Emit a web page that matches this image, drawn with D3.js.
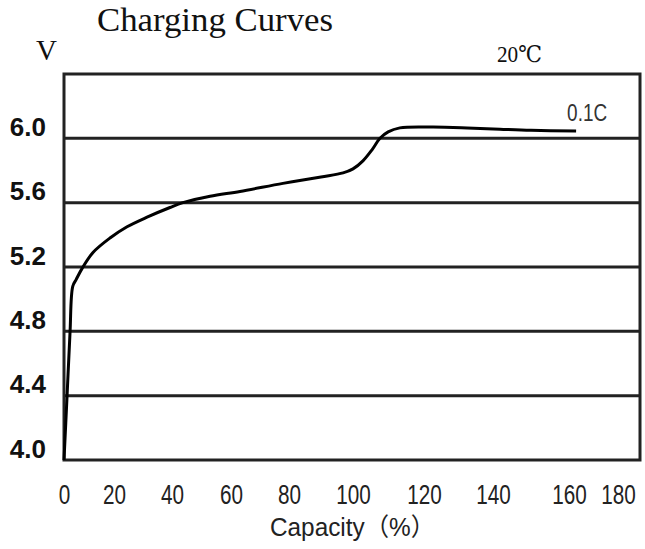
<!DOCTYPE html>
<html>
<head>
<meta charset="utf-8">
<script src="https://cdn.jsdelivr.net/npm/d3@7"></script>
<style>
    body { margin: 0; background: #fff; }
    text { fill: #111; }
</style>
</head>
<body>
<div class="chart-container"></div>
<script>
// Data
const capacity = [0, 1.2, 2.4, 3.5, 4.8, 7.2, 11.6, 18.4, 24.5, 31.4, 39.3, 43.7, 52.9, 63.1,
    77.9, 90, 96.9, 100, 102.8, 105.4, 107.6, 109.9, 113.2,
    122.6, 132.5, 141.8, 150, 162.9];
const voltage = [4.0, 4.39, 4.79, 5.08, 5.12, 5.19, 5.29, 5.38, 5.45, 5.51, 5.57, 5.6, 5.64, 5.67,
    5.72, 5.76, 5.785, 5.81, 5.86, 5.93, 6.0, 6.04, 6.065,
    6.07, 6.065, 6.057, 6.05, 6.045];
const xTicks = [0, 20, 40, 60, 80, 100, 120, 140, 160, 180];
const yTicks = [4.0, 4.4, 4.8, 5.2, 5.6, 6.0];
const seriesName = '0.1C';

// Layout
const width = 645;
const height = 549;
const plot = {left: 64, right: 640, top: 74, bottom: 460};
// the printed capacity ticks are not evenly spaced, so the scale follows them
const xTickPos = [64, 114, 172, 231, 289, 353, 424, 493, 569, 618];

// Scales
const xScale = d3.scaleLinear()
    .domain(xTicks)
    .range(xTickPos);

const yScale = d3.scaleLinear()
    .domain([4.0, 6.4])
    .range([plot.bottom, plot.top]);

const svg = d3.select('.chart-container')
    .append('svg')
    .attr('width', width)
    .attr('height', height);

svg.append('rect')
    .attr('width', width)
    .attr('height', height)
    .style('fill', '#fff');

// Grid lines
svg.append('g')
    .attr('class', 'grid')
    .selectAll('line')
    .data(yTicks.slice(1))
    .enter()
    .append('line')
    .attr('x1', plot.left)
    .attr('x2', plot.right)
    .attr('y1', d => yScale(d))
    .attr('y2', d => yScale(d))
    .style('stroke', '#222')
    .style('stroke-width', 3);

// Frame
svg.append('rect')
    .attr('x', plot.left)
    .attr('y', plot.top)
    .attr('width', plot.right - plot.left)
    .attr('height', plot.bottom - plot.top)
    .style('fill', 'none')
    .style('stroke', '#222')
    .style('stroke-width', 3);

// Curve
const points = capacity.map((c, i) => [c, voltage[i]]);
const line = d3.line()
    .x(d => xScale(d[0]))
    .y(d => yScale(d[1]))
    .curve(d3.curveCatmullRom.alpha(0.5));

svg.append('path')
    .datum(points)
    .attr('d', line)
    .style('fill', 'none')
    .style('stroke', '#000')
    .style('stroke-width', 3)
    .style('stroke-linejoin', 'round');

const last = points[points.length - 1];
svg.append('text')
    .attr('x', xScale(last[0]) - 9)
    .attr('y', yScale(last[1]) - 10)
    .attr('textLength', 40)
    .attr('lengthAdjust', 'spacingAndGlyphs')
    .style('font-family', 'Liberation Sans, Arial, sans-serif')
    .style('font-size', '23px')
    .style('fill', '#333')
    .text(seriesName);

// Axes
const xAxis = d3.axisBottom(xScale)
    .tickValues(xTicks)
    .tickFormat(d3.format('d'))
    .tickSize(0);

const xAxisDraw = svg.append('g')
    .attr('class', 'x axis')
    .attr('transform', `translate(0, 504)`)
    .call(xAxis);

// condensed digits: squeeze each label around its own tick
xAxisDraw.select('.domain').remove();
xAxisDraw.selectAll('text')
    .attr('x', 0)
    .attr('y', 0)
    .attr('dy', 0)
    .attr('transform', 'scale(0.74, 1)')
    .style('font-family', 'Liberation Sans, Arial, sans-serif')
    .style('font-size', '28px')
    .style('fill', '#222');

const yAxis = d3.axisLeft(yScale)
    .tickValues(yTicks)
    .tickFormat(d3.format('.1f'))
    .tickSize(0);

const yAxisDraw = svg.append('g')
    .attr('class', 'y axis')
    .attr('transform', `translate(46, 0)`)
    .call(yAxis);

yAxisDraw.select('.domain').remove();
yAxisDraw.selectAll('text')
    .attr('x', 0)
    .attr('dy', '-3px')
    .style('font-family', 'Liberation Sans, Arial, sans-serif')
    .style('font-weight', 'bold')
    .style('font-size', '26px')
    .style('fill', '#111');

// Labels
svg.append('text')
    .attr('x', 97)
    .attr('y', 31)
    .attr('textLength', 236)
    .attr('lengthAdjust', 'spacingAndGlyphs')
    .style('font-family', 'Liberation Serif, serif')
    .style('font-size', '33px')
    .text('Charging Curves');

svg.append('text')
    .attr('x', 36)
    .attr('y', 60)
    .style('font-family', 'Liberation Serif, serif')
    .style('font-size', '29px')
    .text('V');

svg.append('text')
    .attr('x', 497)
    .attr('y', 62)
    .attr('textLength', 45)
    .attr('lengthAdjust', 'spacingAndGlyphs')
    .style('font-family', 'Liberation Serif, DejaVu Serif, serif')
    .style('font-size', '23px')
    .text('20℃');

svg.append('text')
    .attr('x', 270)
    .attr('y', 536)
    .attr('textLength', 165)
    .attr('lengthAdjust', 'spacingAndGlyphs')
    .style('font-family', 'Liberation Sans, Noto Sans CJK SC, sans-serif')
    .style('font-size', '25px')
    .style('fill', '#222')
    .text('Capacity（%）');
</script>
</body>
</html>
